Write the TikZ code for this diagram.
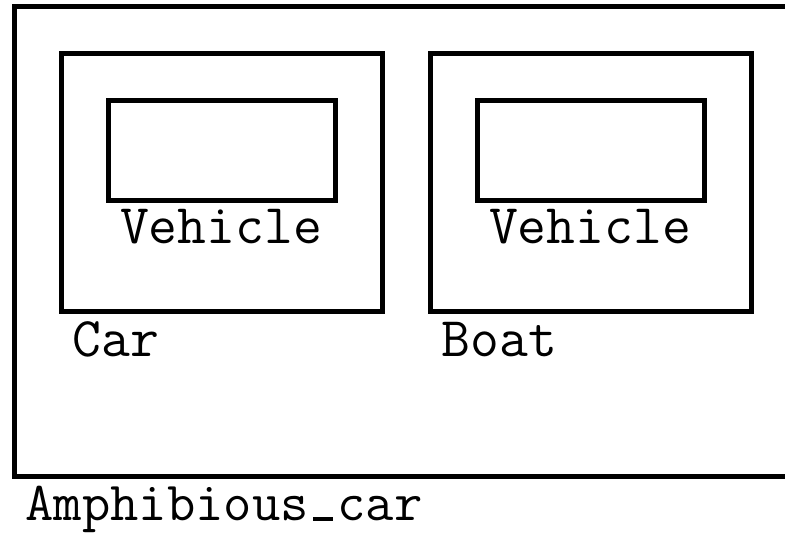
\documentclass[tikz,border=0pt]{standalone}
\usetikzlibrary{fit}
% typewriter-style underscore resting on the baseline
\newcommand{\baseunderscore}{\makebox[0.525em][c]{\vrule width 0.37em height 0.05em depth 0.01em}}
\begin{document}
\begin{tikzpicture}[x=0.5pt, y=-0.5pt,
  box/.style={draw, line width=2.5pt, inner sep=0pt, outer sep=0pt, rectangle},
  lbl/.style={inner sep=0pt, outer sep=0pt, font=\fontsize{28}{33}\selectfont\ttfamily}]
  \useasboundingbox (0,0) rectangle (785,533);
  \clip (0,0) rectangle (785,533);
  % outer class (runs past the right edge)
  \node[box, fit={(14.5,6.5) (830,476)}] (amph) {};
  % Car with its Vehicle part
  \node[box, fit={(61.5,54) (382.5,312)}] (car) {};
  \node[box, fit={(108.5,100.5) (335,200.5)}] (carveh) {};
  % Boat with its Vehicle part
  \node[box, fit={(430,54) (751,312)}] (boat) {};
  \node[box, fit={(477.5,100.5) (704,200.5)}] (boatveh) {};
  % labels
  \node[lbl, anchor=base] (carvehlbl) at (221,244) {Vehicle};
  \node[lbl, anchor=base] (boatvehlbl) at (590,244) {Vehicle};
  \node[lbl, anchor=base west] (carlbl) at (72.5,357) {Car};
  \node[lbl, anchor=base west] (boatlbl) at (441.5,357) {Boat};
  \node[lbl, anchor=base west, font=\fontsize{27.5}{33}\selectfont\ttfamily] (amphlbl) at (25.5,520) {Amphibious\baseunderscore car};
\end{tikzpicture}
\end{document}
